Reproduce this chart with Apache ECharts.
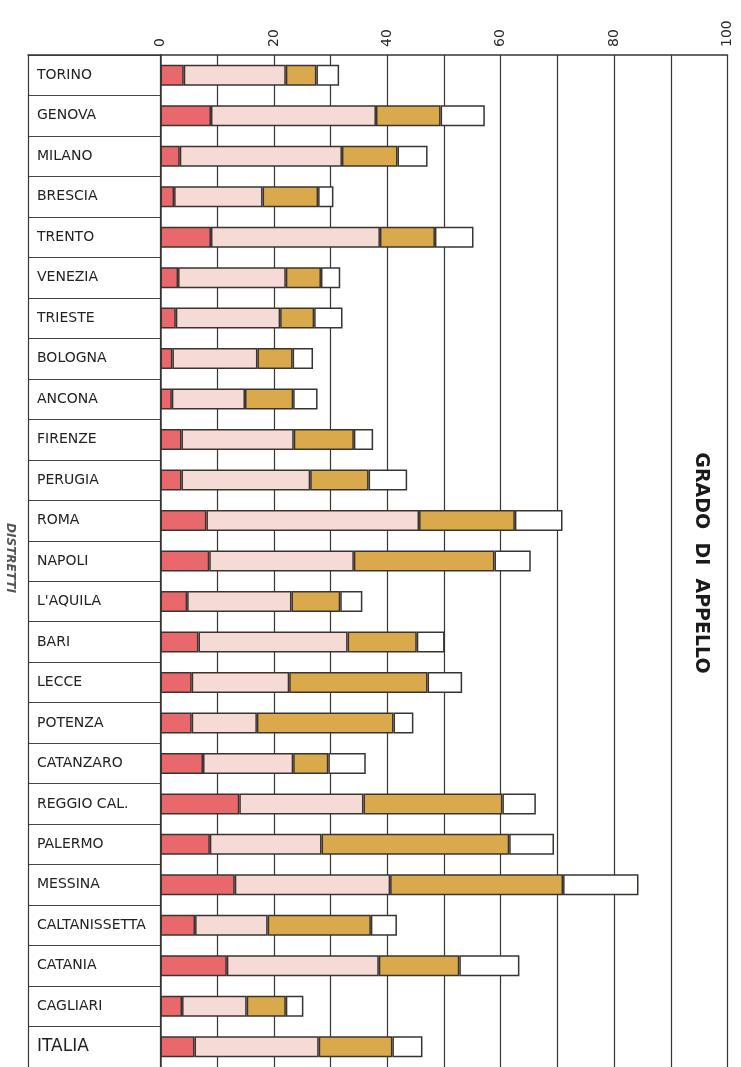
<!DOCTYPE html>
<html>
<head>
<meta charset="utf-8">
<script src="https://cdn.jsdelivr.net/npm/echarts@6/dist/echarts.min.js"></script>
<style>
html,body{margin:0;padding:0;background:#fff;}
#chart{width:741px;height:1067px;}
</style>
</head>
<body>
<div id="chart"></div>
<script>
const CATEGORIES = ['TORINO','GENOVA','MILANO','BRESCIA','TRENTO','VENEZIA','TRIESTE','BOLOGNA','ANCONA','FIRENZE','PERUGIA','ROMA','NAPOLI',"L'AQUILA",'BARI','LECCE','POTENZA','CATANZARO','REGGIO CAL.','PALERMO','MESSINA','CALTANISSETTA','CATANIA','CAGLIARI','ITALIA'];
const SEG_RED   = [4.1, 8.9, 3.4, 2.4, 8.9, 3.1, 2.7, 2.1, 2.0, 3.7, 3.7, 8.1, 8.6, 4.7, 6.7, 5.5, 5.5, 7.5, 13.9, 8.7, 13.1, 6.1, 11.7, 3.8, 6.0];
const SEG_PINK  = [18.0, 29.1, 28.6, 15.6, 29.8, 19.0, 18.4, 15.0, 12.9, 19.8, 22.7, 37.5, 25.5, 18.4, 26.3, 17.2, 11.5, 15.9, 21.9, 19.7, 27.4, 12.8, 26.8, 11.4, 21.9];
const SEG_GOLD  = [5.4, 11.4, 9.8, 9.8, 9.7, 6.2, 6.0, 6.2, 8.5, 10.6, 10.3, 16.9, 24.8, 8.6, 12.2, 24.4, 24.1, 6.2, 24.5, 33.1, 30.5, 18.2, 14.2, 6.9, 13.0];
const SEG_WHITE = [4.0, 7.8, 5.3, 2.7, 6.8, 3.4, 5.0, 3.6, 4.3, 3.4, 6.8, 8.4, 6.4, 3.9, 4.9, 6.1, 3.5, 6.6, 5.9, 7.9, 13.3, 4.6, 10.6, 3.1, 5.3];
const TICK_LABELS = ['0','20','40','60','80','100'];
const AXIS_TITLE = 'GRADO  DI  APPELLO';
const SIDE_TITLE = 'DISTRETTI';

const chart = echarts.init(document.getElementById('chart'), null, {renderer:'canvas'});
const dark = '#3a3430';
const border = {borderColor: dark, borderWidth: 1.5};
function seg(name, data, color){
  return {name, type:'bar', stack:'tot', xAxisIndex:0, yAxisIndex:0, data,
    barWidth:21, itemStyle:Object.assign({color}, border), emphasis:{disabled:true}, silent:true};
}
const option = {
  backgroundColor:'#ffffff',
  animation:false,
  grid:[
    {left:160.5, top:55, width:567, height:1015},
    {left:28, top:55, width:132.5, height:1015}
  ],
  xAxis:[
    {gridIndex:0, type:'value', min:0, max:100, interval:10, position:'top',
     axisLine:{show:true, lineStyle:{color:dark, width:1.5}},
     axisTick:{show:false},
     axisLabel:{rotate:-90, margin:8, color:'#2a2a2a', fontSize:14, fontFamily:'DejaVu Sans',
       formatter:function(v){ return v % 20 === 0 ? TICK_LABELS[v/20] : ''; }},
     splitLine:{show:true, lineStyle:{color:dark, width:1.2}}},
    {gridIndex:1, type:'value', min:0, max:1, position:'top',
     axisLine:{show:true, onZero:false, lineStyle:{color:dark, width:1.5}},
     axisTick:{show:false}, axisLabel:{show:false}, splitLine:{show:false}}
  ],
  yAxis:[
    {gridIndex:0, type:'category', inverse:true, data:CATEGORIES,
     axisLine:{show:true, lineStyle:{color:dark, width:1.5}},
     axisTick:{show:false}, axisLabel:{show:false}, splitLine:{show:false}},
    {gridIndex:1, type:'category', inverse:true, data:CATEGORIES,
     axisLine:{show:true, lineStyle:{color:dark, width:1.2}},
     axisTick:{show:false},
     splitLine:{show:true, lineStyle:{color:'#4a4440', width:1}},
     axisLabel:{inside:true, margin:9, color:'#222', fontSize:14, fontFamily:'DejaVu Sans',
       formatter:function(v){ return v === 'ITALIA' ? '{big|' + v + '}' : v; },
       rich:{big:{fontSize:17, fontFamily:'DejaVu Sans', color:'#222'}}}}
  ],
  series:[
    seg('s1', SEG_RED, '#e8686b'),
    seg('s2', SEG_PINK, '#f6dad6'),
    seg('s3', SEG_GOLD, '#d9a94b'),
    seg('s4', SEG_WHITE, '#ffffff')
  ],
  graphic:[
    {type:'text', x:701, y:563, rotation:-Math.PI/2,
     style:{text:AXIS_TITLE, fill:'#1a1a1a', font:'bold 19px "DejaVu Sans"', textAlign:'center', textVerticalAlign:'middle'}},
    {type:'text', x:10, y:558, rotation:-Math.PI/2,
     style:{text:SIDE_TITLE, fill:'#555', font:'italic bold 12px "DejaVu Sans"', textAlign:'center', textVerticalAlign:'middle'}}
  ]
};
chart.setOption(option);
</script>
</body>
</html>
